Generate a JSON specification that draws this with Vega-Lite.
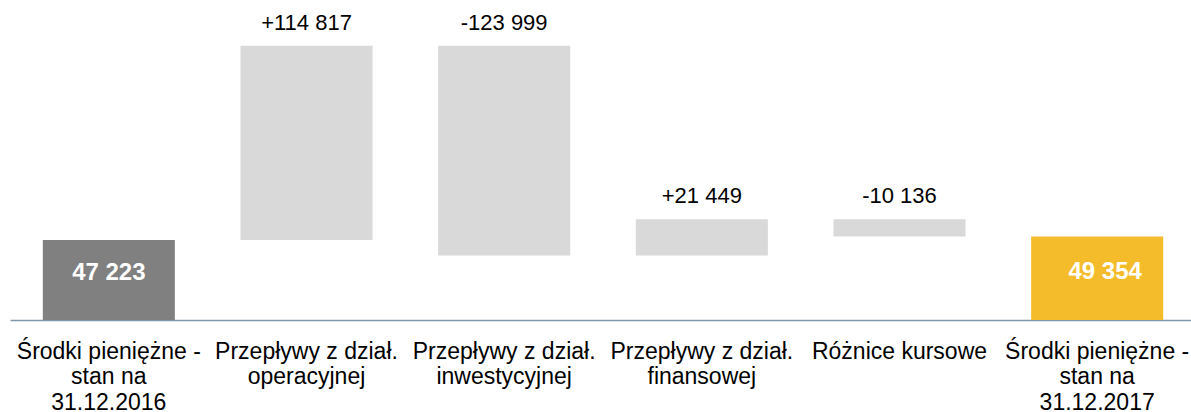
{
  "$schema": "https://vega.github.io/schema/vega-lite/v6.json",
  "width": 1186,
  "height": 320,
  "autosize": {"type": "none"},
  "padding": {"left": 10, "top": 0, "right": 0, "bottom": 92},
  "background": "white",
  "config": {"view": {"stroke": null}, "font": "Liberation Sans"},
  "data": {
    "values": [
      {"cat": "Środki pieniężne -|stan na|31.12.2016", "lo": 0, "hi": 47223, "label": "47 223", "kind": "start"},
      {"cat": "Przepływy z dział.|operacyjnej", "lo": 47223, "hi": 162040, "label": "+114 817", "kind": "delta"},
      {"cat": "Przepływy z dział.|inwestycyjnej", "lo": 38041, "hi": 162040, "label": "-123 999", "kind": "delta"},
      {"cat": "Przepływy z dział.|finansowej", "lo": 38041, "hi": 59490, "label": "+21 449", "kind": "delta"},
      {"cat": "Różnice kursowe", "lo": 49354, "hi": 59490, "label": "-10 136", "kind": "delta"},
      {"cat": "Środki pieniężne -|stan na|31.12.2017", "lo": 0, "hi": 49354, "label": "49 354", "kind": "end"}
    ]
  },
  "encoding": {
    "x": {
      "field": "cat", "type": "nominal", "sort": null,
      "scale": {"paddingInner": 0.332, "paddingOuter": 0.166},
      "axis": {
        "title": null, "labelAngle": 0, "ticks": false, "domainColor": "#7f96a8", "domainWidth": 1.5,
        "labelExpr": "split(datum.label, '|')", "labelFontSize": 23, "labelColor": "#000000",
        "labelPadding": 31, "labelLineHeight": 25.5, "labelBaseline": "middle", "labelLimit": 0, "labelFont": "Liberation Sans"
      }
    }
  },
  "layer": [
    {
      "mark": {"type": "bar"},
      "encoding": {
        "y": {"field": "lo", "type": "quantitative", "scale": {"domain": [0, 189000], "nice": false, "zero": true}, "axis": null},
        "y2": {"field": "hi"},
        "color": {"field": "kind", "type": "nominal", "scale": {"domain": ["start", "delta", "end"], "range": ["#808080", "#d9d9d9", "#f4bc2a"]}, "legend": null}
      }
    },
    {
      "transform": [{"filter": "datum.kind == 'delta'"}],
      "mark": {"type": "text", "baseline": "alphabetic", "dy": -16, "fontSize": 22, "color": "#000000", "font": "Liberation Sans"},
      "encoding": {
        "y": {"field": "hi", "type": "quantitative"},
        "text": {"field": "label"}
      }
    },
    {
      "transform": [{"filter": "datum.kind == 'start'"}],
      "mark": {"type": "text", "baseline": "middle", "dy": 33, "fontSize": 24, "fontWeight": "bold", "color": "#ffffff", "font": "Liberation Sans"},
      "encoding": {
        "y": {"field": "hi", "type": "quantitative"},
        "text": {"field": "label"}
      }
    },
    {
      "transform": [{"filter": "datum.kind == 'end'"}],
      "mark": {"type": "text", "baseline": "middle", "dy": 36, "dx": 8, "fontSize": 24, "fontWeight": "bold", "color": "#ffffff", "font": "Liberation Sans"},
      "encoding": {
        "y": {"field": "hi", "type": "quantitative"},
        "text": {"field": "label"}
      }
    }
  ]
}
